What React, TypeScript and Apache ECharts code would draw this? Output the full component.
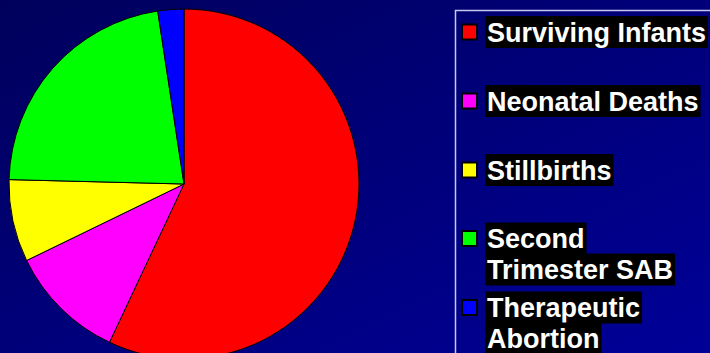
import React, { useEffect, useRef } from "react";
import * as echarts from "echarts";

const categories = [
  "Surviving Infants",
  "Neonatal Deaths",
  "Stillbirths",
  "Second Trimester SAB",
  "Therapeutic Abortion",
];
const legendLines = [
  ["Surviving Infants"],
  ["Neonatal Deaths"],
  ["Stillbirths"],
  ["Second", "Trimester SAB"],
  ["Therapeutic", "Abortion"],
];
const values = [57.0, 10.8, 7.6, 22.2, 2.4];
const colors = ["#ff0000", "#ff00ff", "#ffff00", "#00ff00", "#0000ff"];

const FONT = "'Liberation Sans', Arial, sans-serif";

export default function App() {
  const ref = useRef<HTMLDivElement>(null);
  useEffect(() => {
    if (!ref.current) return;
    const chart = echarts.init(ref.current, null, { renderer: "svg" });
    const richStyle = {
      t: {
        color: "#ffffff",
        fontFamily: FONT,
        fontWeight: "bold",
        fontSize: 27,
        lineHeight: 31,
        backgroundColor: "#000000",
        padding: [3, 2, 2, 2],
      },
    };
    const centers = [31.5, 100.5, 169.5, 238.5, 307.5];
    const legends = categories.map((name, i) => {
      const lines = legendLines[i];
      const multi = lines.length > 1;
      return {
        data: [name],
        left: 461,
        top: multi ? centers[i] - 46.5 : centers[i] - 15.5,
        orient: "vertical",
        padding: 0,
        itemWidth: 21,
        itemHeight: 15,
        icon: "path://M0,0h15v15h-15z",
        selectedMode: false,
        formatter: () => lines.map((l) => `{t|${l}}`).join("\n"),
        textStyle: {
          color: "#ffffff",
          fontFamily: FONT,
          fontWeight: "bold",
          fontSize: 27,
          lineHeight: 31,
          padding: multi ? [31, 0, 0, 0] : 0,
          rich: richStyle,
        },
      };
    });
    chart.setOption({
      animation: false,
      backgroundColor: {
        type: "linear",
        x: 0,
        y: 0,
        x2: 1,
        y2: 1,
        colorStops: [
          { offset: 0, color: "#00005c" },
          { offset: 1, color: "#000098" },
        ],
      },
      color: colors,
      legend: legends,
      graphic: [
        {
          type: "rect",
          z: -1,
          shape: { x: 455.5, y: 10.5, width: 400, height: 400 },
          style: { fill: "none", stroke: "#c8c8f0", lineWidth: 1.5 },
        },
      ],
      series: [
        {
          type: "pie",
          center: [184, 184],
          radius: 175,
          startAngle: 90,
          clockwise: true,
          label: { show: false },
          labelLine: { show: false },
          emphasis: { disabled: true },
          itemStyle: { borderColor: "#000000", borderWidth: 1 },
          data: categories.map((name, i) => ({ name, value: values[i] })),
        },
      ],
    });
    return () => chart.dispose();
  }, []);
  return (
    <div
      ref={ref}
      style={{ position: "fixed", left: 0, top: 0, width: 710, height: 353 }}
    />
  );
}
